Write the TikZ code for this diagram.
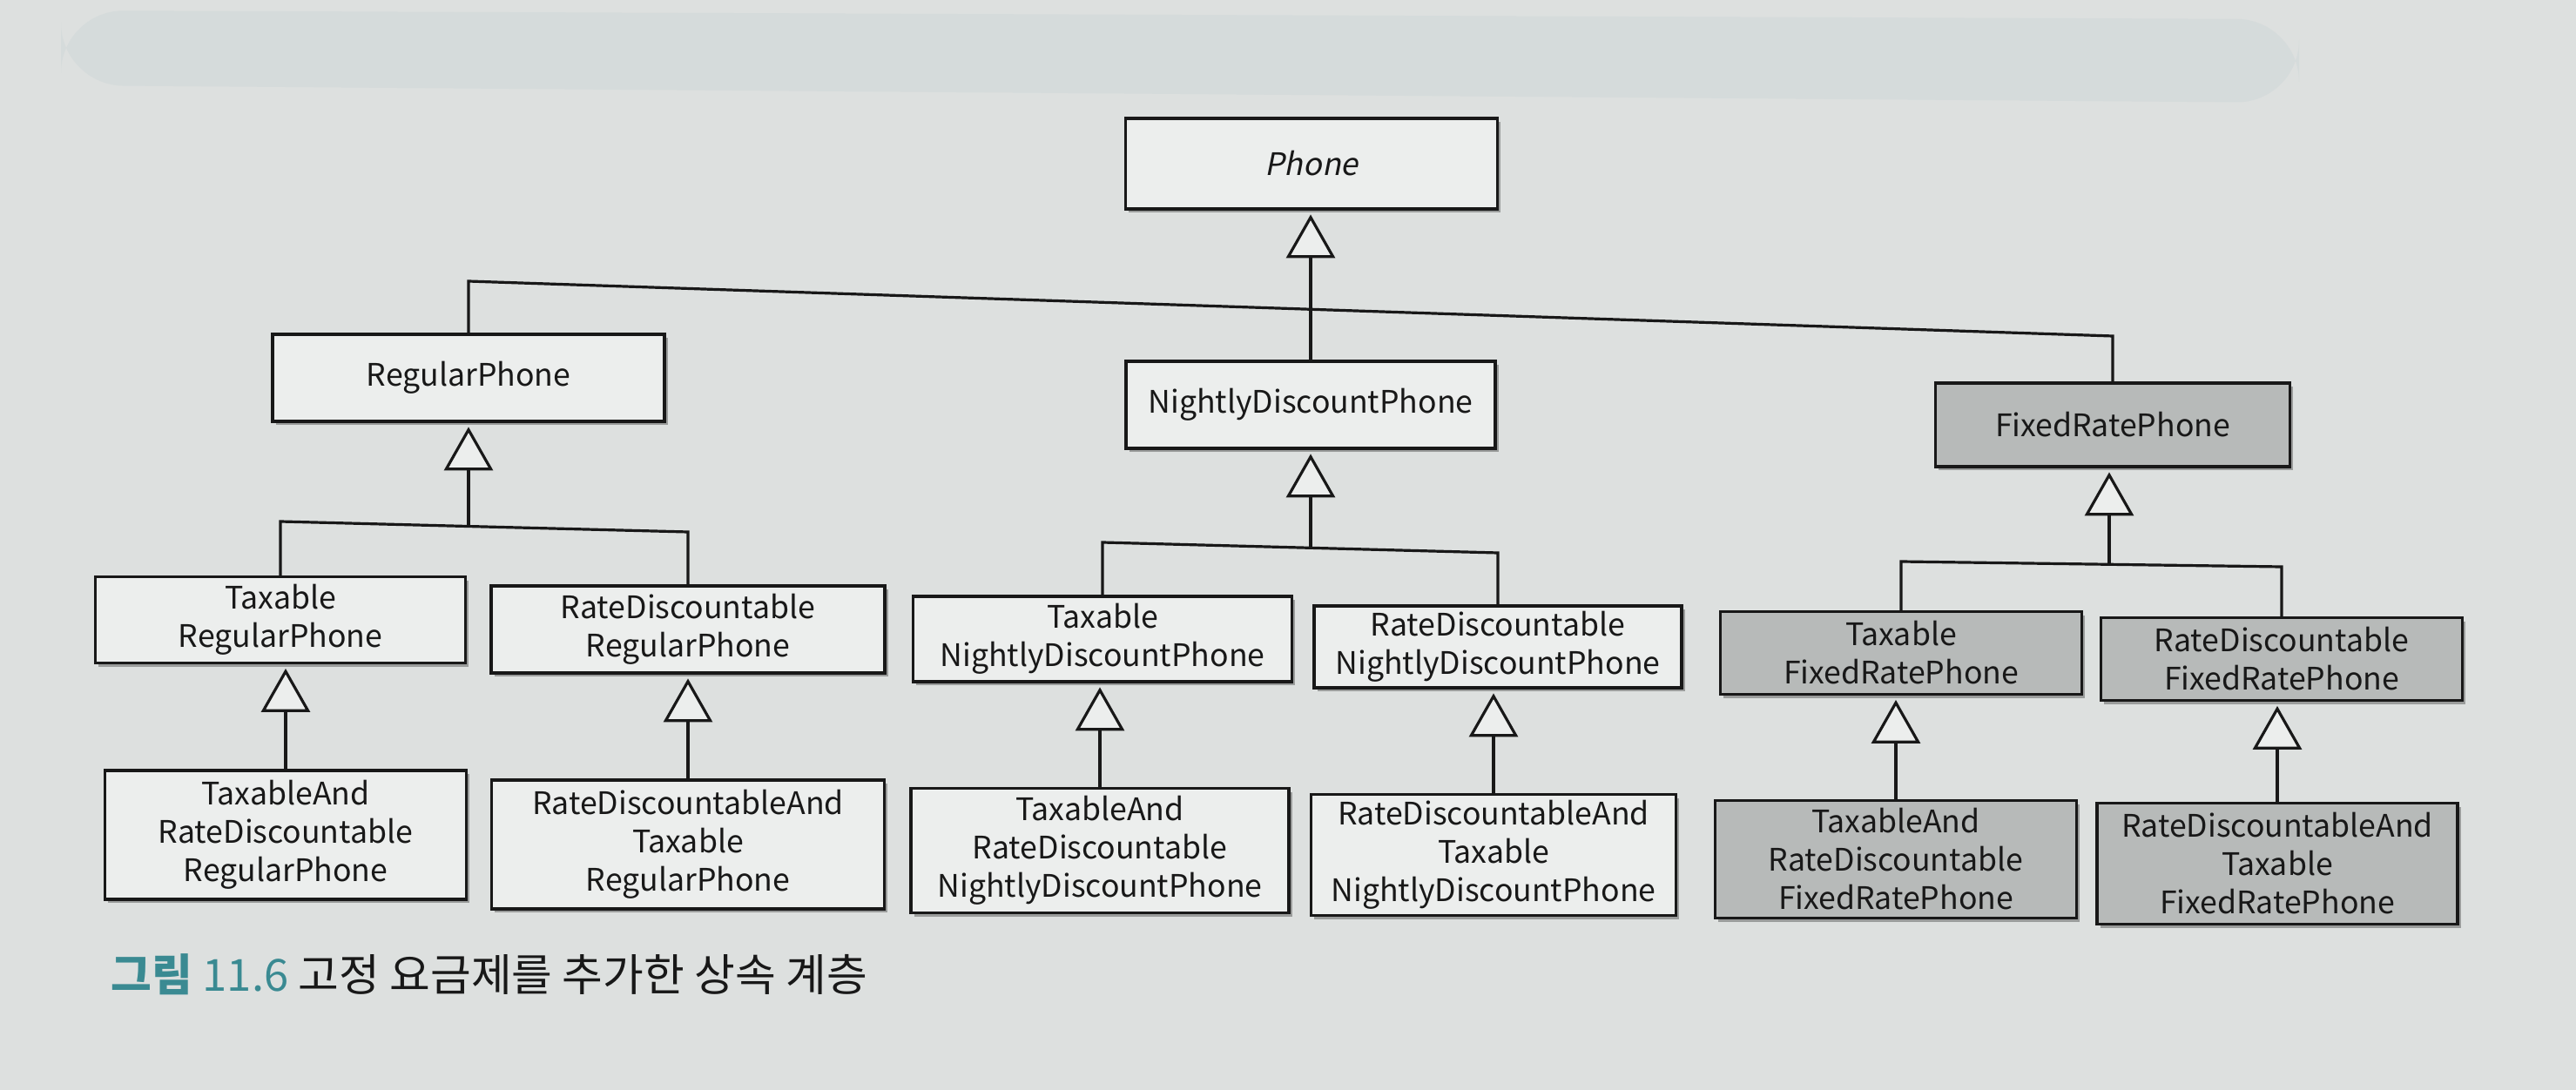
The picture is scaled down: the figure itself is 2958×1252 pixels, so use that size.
\documentclass[tikz,border=0pt]{standalone}
\usepackage{fontspec}
\setmainfont{Noto Sans CJK KR}[AutoFakeSlant=0.2]
\usetikzlibrary{arrows.meta,shadows}
\definecolor{paper}{RGB}{221,224,223}
\definecolor{band}{RGB}{213,219,219}
\definecolor{boxw}{RGB}{236,238,237}
\definecolor{boxg}{RGB}{183,186,185}
\definecolor{ink}{RGB}{24,24,24}
\definecolor{teal2}{RGB}{58,138,146}
\begin{document}
\begin{tikzpicture}[x=0.25pt,y=-0.25pt,
  cls/.style={draw=ink, line width=0.8pt, fill=boxw, text=ink, inner sep=0pt, align=center,
    font=\fontsize{8.9}{11}\selectfont,
    drop shadow={shadow xshift=0.9pt, shadow yshift=-1.1pt, opacity=0.3, fill=black}},
  gcls/.style={cls, fill=boxg},
  bx/.style 2 args={minimum width=#1*0.25pt, minimum height=#2*0.25pt},
  conn/.style={draw=ink, line width=0.8pt},
  inh/.style={conn, -{Triangle[width=14pt, length=12.5pt, fill=boxw, line width=0.8pt]}, shorten >=1.2pt}]
\fill[paper] (0,0) rectangle (2958,1252);
\useasboundingbox (0,0) rectangle (2958,1252);
\fill[band, rounded corners=18pt] (70,12) -- (2640,22) -- (2640,118) -- (70,98) -- cycle;

% level 0
\node[cls, bx={427}{104}] (phone) at (1506,188) {\textit{Phone}};
% level 1
\node[cls, bx={450}{100}] (reg) at (538,434) {RegularPhone};
\node[cls, bx={424}{100}] (ndp) at (1505,465) {NightlyDiscountPhone};
\node[gcls, bx={407}{96}] (frp) at (2426,488) {FixedRatePhone};
% level 2
\node[cls, bx={425}{99}] (trp) at (322,712) {Taxable\\RegularPhone};
\node[cls, bx={452}{100}] (rdrp) at (790,723) {RateDiscountable\\RegularPhone};
\node[cls, bx={435}{98}] (tndp) at (1266,734) {Taxable\\NightlyDiscountPhone};
\node[cls, bx={422}{94}] (rdndp) at (1720,743) {RateDiscountable\\NightlyDiscountPhone};
\node[gcls, bx={415}{95}] (tfrp) at (2183,750) {Taxable\\FixedRatePhone};
\node[gcls, bx={415}{95}] (rdfrp) at (2620,757) {RateDiscountable\\FixedRatePhone};
% level 3
\node[cls, bx={415}{148}] (tarrp) at (328,959) {TaxableAnd\\RateDiscountable\\RegularPhone};
\node[cls, bx={451}{148}] (rdatrp) at (790,970) {RateDiscountableAnd\\Taxable\\RegularPhone};
\node[cls, bx={434}{143}] (tardndp) at (1263,977) {TaxableAnd\\RateDiscountable\\NightlyDiscountPhone};
\node[cls, bx={419}{139}] (rdatndp) at (1715,982) {RateDiscountableAnd\\Taxable\\NightlyDiscountPhone};
\node[gcls, bx={415}{135}] (tardfrp) at (2177,987) {TaxableAnd\\RateDiscountable\\FixedRatePhone};
\node[gcls, bx={414}{139}] (rdatfrp) at (2615,992) {RateDiscountableAnd\\Taxable\\FixedRatePhone};

% junction points
\coordinate (b1l) at (538,323);
\coordinate (b1r) at (2426,386);
\coordinate (b2l) at (322,599);
\coordinate (b2r) at (790,611);
\coordinate (j2) at (538,604.5);
\coordinate (b3l) at (1266,623);
\coordinate (b3r) at (1720,635);
\coordinate (j3) at (1505,629.3);
\coordinate (b4l) at (2183,645);
\coordinate (b4r) at (2620,651);
\coordinate (j4) at (2422,648.2);

% level 0 - level 1
\draw[inh] (ndp.north) -- (ndp.north |- phone.south);
\draw[conn] (reg.north) -- (b1l) -- (b1r) -- (frp.north);
% level 1 - level 2
\draw[inh] (j2) -- (j2 |- reg.south);
\draw[conn] (trp.north) -- (b2l) -- (b2r) -- (rdrp.north);
\draw[inh] (j3) -- (j3 |- ndp.south);
\draw[conn] (tndp.north) -- (b3l) -- (b3r) -- (rdndp.north);
\draw[inh] (j4) -- (j4 |- frp.south);
\draw[conn] (tfrp.north) -- (b4l) -- (b4r) -- (rdfrp.north);
% level 2 - level 3
\draw[inh] (tarrp.north) -- (tarrp.north |- trp.south);
\draw[inh] (rdatrp.north) -- (rdatrp.north |- rdrp.south);
\draw[inh] (tardndp.north) -- (tardndp.north |- tndp.south);
\draw[inh] (rdatndp.north) -- (rdatndp.north |- rdndp.south);
\draw[inh] (tardfrp.north) -- (tardfrp.north |- tfrp.south);
\draw[inh] (rdatfrp.north) -- (rdatfrp.north |- rdfrp.south);

% caption
\node[anchor=base west, inner sep=0pt, text=ink, font=\fontsize{12.7}{14}\selectfont] (cap) at (127,1138)
  {\textcolor{teal2}{\textbf{그림} 11.6} 고정 요금제를 추가한 상속 계층};
\end{tikzpicture}
\end{document}
